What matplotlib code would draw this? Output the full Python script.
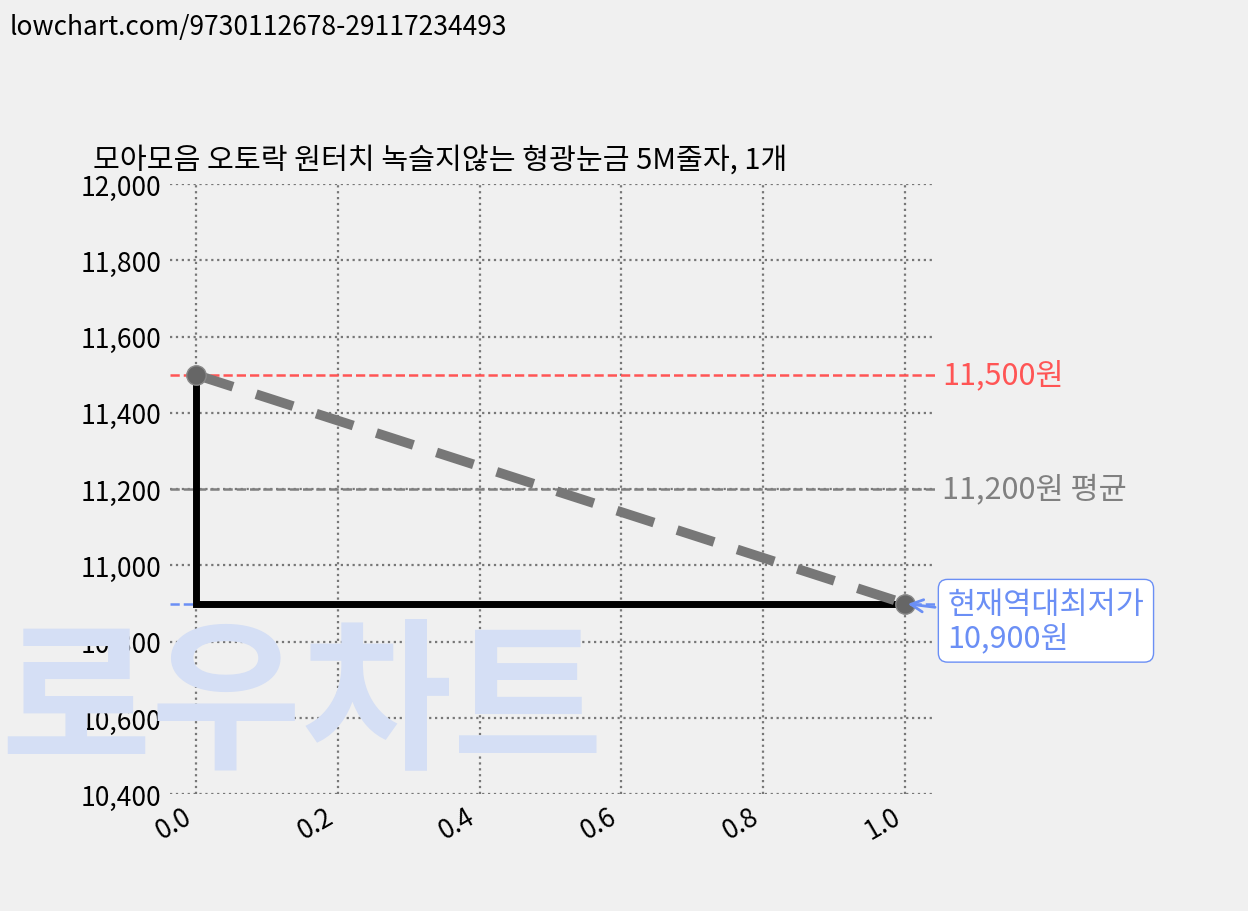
import matplotlib
matplotlib.use("Agg")
import matplotlib.pyplot as plt

plt.rcParams['font.family'] = ['Noto Sans CJK KR', 'DejaVu Sans']

title = "모아모음 오토락 원터치 녹슬지않는 형광눈금 5M줄자, 1개"
x_pts = [0.0, 1.0]
prices = [11500, 10900]
max_price = 11500
avg_price = 11200
min_price = 10900
yticks = [10400, 10600, 10800, 11000, 11200, 11400, 11600, 11800, 12000]
xticks = [0.0, 0.2, 0.4, 0.6, 0.8, 1.0]

bg = '#f0f0f0'
fig = plt.figure(figsize=(12.48, 9.12), dpi=100, facecolor=bg)
fig.text(0.008, 0.985, "lowchart.com/9730112678-29117234493", fontsize=19, va='top', ha='left')
fig.text(0.0, 0.225, "로우차트", fontsize=118, fontweight='black', color='#d5dff5',
         ha='left', va='center', zorder=0)

ax = fig.add_axes([0.136, 0.128, 0.613, 0.669])
ax.patch.set_alpha(0)
ax.set_xlim(-0.037, 1.042)
ax.set_ylim(10400, 12000)
for s in ax.spines.values():
    s.set_visible(False)
ax.grid(True, linestyle=':', color='#777777', linewidth=1.6)
ax.set_yticks(yticks)
ax.set_yticklabels([f"{v:,}" for v in yticks], fontsize=19)
ax.set_xticks(xticks)
ax.set_xticklabels([f"{v:.1f}" for v in xticks], fontsize=19, rotation=30, ha='right')
ax.tick_params(length=0, pad=6)
ax.set_title(title, fontsize=21, loc='left', x=-0.1, pad=12)

ax.axhline(max_price, color='#ff5555', linestyle='--', linewidth=1.8)
ax.axhline(avg_price, color='#808080', linestyle='--', linewidth=1.8)
ax.axhline(min_price, color='#6b8ff5', linestyle='--', linewidth=1.8)

ax.plot([x_pts[0], x_pts[0], x_pts[1]], [prices[0], prices[1], prices[1]],
        color='black', linewidth=5, solid_joinstyle='miter')
ax.plot(x_pts, prices, color='#777777', linewidth=7, linestyle=(0, (4, 2.5)),
        marker='o', markersize=14, markerfacecolor='#666666', markeredgecolor='#888888')

ax.text(1.052, max_price, f"{max_price:,}원", color='#ff5555', fontsize=22, va='center', ha='left')
ax.text(1.052, avg_price, f"{avg_price:,}원 평균", color='#808080', fontsize=22, va='center', ha='left')
ax.annotate(f"현재역대최저가\n{min_price:,}원", xy=(1.0, min_price), xytext=(1.06, min_price - 45),
            color='#6b8ff5', fontsize=22, va='center', ha='left', linespacing=1.1,
            bbox=dict(boxstyle='round,pad=0.3', fc='white', ec='#6b8ff5'),
            arrowprops=dict(arrowstyle='->', color='#6b8ff5', lw=2))

fig.savefig("out.png", dpi=100, facecolor=bg)
